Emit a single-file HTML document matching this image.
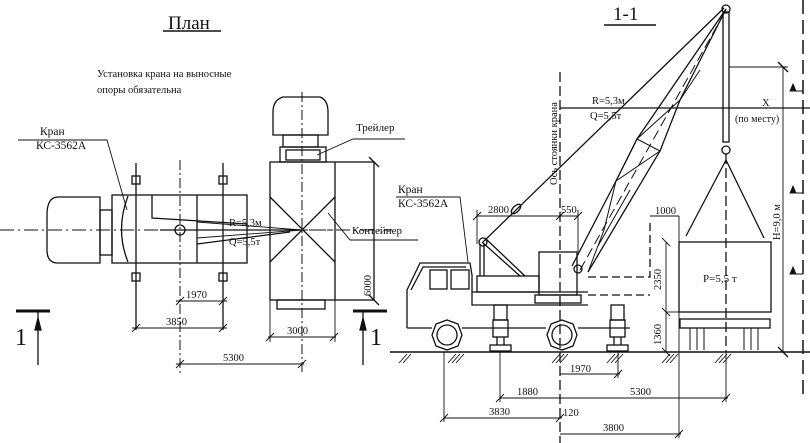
<!DOCTYPE html>
<html><head><meta charset="utf-8"><style>
html,body{margin:0;padding:0;background:#fff}
svg{display:block}
text{font-family:"Liberation Serif","DejaVu Serif",serif;fill:#111}
</style></head><body>
<svg width="810" height="443" viewBox="0 0 810 443" xmlns="http://www.w3.org/2000/svg" stroke="#111" fill="none" stroke-width="1.3">
<!-- ===== PLAN ===== -->
<text x="168" y="29" font-size="19" stroke="none">План</text>
<line x1="163" y1="31" x2="221" y2="31" stroke-width="1.5"/>
<text x="97" y="77" font-size="10.5" stroke="none" font-family="Liberation Sans">Установка крана на выносные</text>
<text x="97" y="93" font-size="10.5" stroke="none" font-family="Liberation Sans">опоры обязательна</text>

<line x1="0" y1="230" x2="392" y2="230" stroke-dasharray="14,4,2,4" stroke-width="1"/>
<path d="M58 197 H100 V263 H58 Q47 263 47 250 V215 Q47 197 58 197 Z"/>
<rect x="100" y="210" width="12" height="45"/>
<rect x="112" y="195" width="135" height="68"/>
<path d="M128 196 Q115 230 128 262"/>
<path d="M152 195 V218 L247 224"/>
<path d="M197 195 V263"/>
<path d="M197 244 L290 232"/>
<line x1="160" y1="230" x2="300" y2="230"/>
<circle cx="180" cy="230" r="5"/>
<line x1="136" y1="163" x2="136" y2="330"/>
<line x1="223" y1="163" x2="223" y2="330"/>
<rect x="132" y="176" width="8" height="8"/>
<rect x="219" y="176" width="8" height="8"/>
<rect x="132" y="273" width="8" height="8"/>
<rect x="219" y="273" width="8" height="8"/>
<line x1="180" y1="160" x2="180" y2="375" stroke-dasharray="10,3,2,3" stroke-width="1"/>
<path d="M197 222 L302 230 L197 238" stroke-width="0.9"/>
<text x="229" y="226" font-size="10.5" stroke="none">R=5,3м</text>
<text x="229" y="245" font-size="10.5" stroke="none">Q=5,5т</text>
<text x="40" y="135" font-size="11.5" stroke="none" font-family="Liberation Sans">Кран</text>
<text x="36" y="149" font-size="11.5" stroke="none" font-family="Liberation Sans">КС-3562А</text>
<path d="M18 140 H107 L127 210" stroke-width="0.9"/>

<path d="M283 97 H320 Q328 100 328 112 V135 H273 V112 Q273 100 283 97 Z"/>
<rect x="283" y="135" width="35" height="12"/>
<rect x="280" y="147" width="46" height="15"/>
<rect x="286" y="150" width="34" height="10"/>
<rect x="270" y="162" width="104" height="138"/>
<line x1="335" y1="162" x2="335" y2="300"/>
<line x1="270" y1="197" x2="335" y2="262"/>
<line x1="335" y1="197" x2="270" y2="262"/>
<rect x="277" y="300" width="48" height="9"/>
<line x1="302" y1="92" x2="302" y2="372" stroke-dasharray="10,3,2,3" stroke-width="1"/>
<line x1="300" y1="230" x2="345" y2="230" stroke-dasharray="6,3" stroke-width="1"/>
<text x="356" y="131" font-size="11" stroke="none" font-family="Liberation Sans">Трейлер</text>
<path d="M317 155 L353 139 H405" stroke-width="0.9"/>
<text x="352" y="234" font-size="11" stroke="none" font-family="Liberation Sans">Контейнер</text>
<path d="M328 213 L350 240 H418" stroke-width="0.9"/>
<line x1="374" y1="162" x2="374" y2="300" stroke-width="0.9"/>
<line x1="369" y1="157" x2="379" y2="167"/><line x1="369" y1="295" x2="379" y2="305"/>
<text transform="translate(371 296) rotate(-90)" font-size="10.5" stroke="none">6000</text>

<g stroke-width="0.9">
<line x1="176" y1="301" x2="227" y2="301"/><line x1="176" y1="305" x2="184" y2="297"/><line x1="219" y1="305" x2="227" y2="297"/>
<line x1="132" y1="328" x2="227" y2="328"/><line x1="132" y1="332" x2="140" y2="324"/><line x1="219" y1="332" x2="227" y2="324"/>
<line x1="268" y1="337" x2="336" y2="337"/><line x1="266" y1="341" x2="274" y2="333"/><line x1="330" y1="341" x2="338" y2="333"/>
<line x1="270" y1="300" x2="270" y2="342"/><line x1="335" y1="300" x2="335" y2="342"/>
<line x1="176" y1="364" x2="304" y2="364"/><line x1="176" y1="368" x2="184" y2="360"/><line x1="298" y1="368" x2="306" y2="360"/>
</g>
<text x="186" y="298" font-size="10.5" stroke="none">1970</text>
<text x="166" y="325" font-size="10.5" stroke="none">3850</text>
<text x="287" y="334" font-size="10.5" stroke="none">3000</text>
<text x="223" y="361" font-size="10.5" stroke="none">5300</text>
<line x1="16" y1="311" x2="50" y2="311" stroke-width="3"/>
<line x1="38" y1="311" x2="38" y2="365"/><path d="M35 330 L38 318 L41 330Z" fill="#111"/>
<text x="15" y="345" font-size="24" stroke="none">1</text>
<line x1="353" y1="311" x2="387" y2="311" stroke-width="3"/>
<line x1="363" y1="311" x2="363" y2="365"/><path d="M360 330 L363 318 L366 330Z" fill="#111"/>
<text x="370" y="345" font-size="24" stroke="none">1</text>

<!-- ===== SECTION 1-1 ===== -->
<text x="613" y="20" font-size="19" stroke="none">1-1</text>
<line x1="604" y1="25" x2="656" y2="25" stroke-width="1.5"/>
<line x1="390" y1="352" x2="810" y2="352" stroke-width="1.5"/>
<g stroke-width="0.9">
<path d="M448 363 l8 -9 M452 363 l8 -9 M456 363 l8 -9"/>
<path d="M552 363 l8 -9 M556 363 l8 -9 M560 363 l8 -9"/>
<path d="M607 363 l8 -9 M611 363 l8 -9 M615 363 l8 -9"/>
<path d="M662 363 l8 -9 M666 363 l8 -9 M670 363 l8 -9"/>
<path d="M715 363 l8 -9 M719 363 l8 -9 M723 363 l8 -9"/>
<path d="M399 363 l8 -9 M403 363 l8 -9"/>
</g>
<line x1="560" y1="72" x2="560" y2="443" stroke-dasharray="10,4" stroke-width="1.3"/>
<text transform="translate(557 185) rotate(-90)" font-size="10.5" stroke="none" font-family="Liberation Sans">Ось стоянки крана</text>
<path d="M407 328 V290 L420 263 H470 L472 275 V305 H588" />
<path d="M411 290 L423 267 H466"/>
<rect x="430" y="270" width="17" height="19"/><rect x="451" y="270" width="18" height="19"/>
<line x1="407" y1="328" x2="432" y2="328"/><line x1="462" y1="328" x2="546" y2="328"/><line x1="578" y1="328" x2="630" y2="328"/>
<rect x="477" y="276" width="62" height="16"/>
<line x1="472" y1="292" x2="588" y2="292"/>
<rect x="539" y="252" width="38" height="43"/>
<rect x="535" y="295" width="46" height="8"/>
<line x1="480" y1="244" x2="480" y2="276"/><line x1="484" y1="244" x2="484" y2="276"/>
<line x1="482" y1="242" x2="520" y2="276"/><line x1="485" y1="238" x2="525" y2="276"/>
<circle cx="483" cy="242" r="4"/>
<polygon points="447,320 458,324 462,335 458,346 447,350 436,346 432,335 436,324"/>
<circle cx="447" cy="335" r="10"/>
<polygon points="562,320 573,324 577,335 573,346 562,350 551,346 547,335 551,324"/>
<circle cx="562" cy="335" r="10"/>
<rect x="494" y="305" width="13" height="15"/><rect x="493" y="320" width="15" height="17"/><line x1="497" y1="337" x2="497" y2="345"/><line x1="504" y1="337" x2="504" y2="345"/><rect x="490" y="345" width="21" height="6"/>
<rect x="611" y="305" width="13" height="15"/><rect x="610" y="320" width="15" height="17"/><line x1="614" y1="337" x2="614" y2="345"/><line x1="621" y1="337" x2="621" y2="345"/><rect x="607" y="345" width="21" height="6"/>
<!-- boom (bulged lattice) -->
<polyline points="572,266 616,181 637,139 726,9"/>
<polyline points="588,272 660,151 680,100 726,9"/>
<line x1="580" y1="270" x2="726" y2="10" stroke-dasharray="10,5" stroke-width="1"/>
<path d="M637 139 L660 151 M616 181 L637 139 M637 139 L680 100 M616 181 L604 230 M660 151 L616 181 M680 100 L700 70 M604 230 L588 272 M598 246 L630 190" stroke-width="1"/>
<circle cx="578" cy="269" r="4"/>
<circle cx="726" cy="9" r="4"/>
<line x1="483" y1="242" x2="724" y2="8"/>
<ellipse cx="516" cy="209" rx="3" ry="6" transform="rotate(45 516 209)"/>
<rect x="723" y="12" width="6" height="130"/>
<circle cx="726" cy="150" r="4"/>
<line x1="726" y1="154" x2="726" y2="352" stroke-dasharray="10,4" stroke-width="1.3"/>
<line x1="726" y1="160" x2="686" y2="236"/><line x1="726" y1="160" x2="764" y2="238"/>
<rect x="679" y="242" width="92" height="70"/>
<text x="703" y="282" font-size="11" stroke="none" font-family="Liberation Sans">P=5,5 т</text>
<rect x="680" y="319" width="90" height="9"/>
<path d="M690 328 V350 M697 328 V350 M704 328 V350 M744 328 V350 M751 328 V350 M758 328 V350" stroke-width="1"/>
<path d="M588 277 H650 V220 M588 295 H650" stroke-dasharray="8,4"/>
<g stroke-width="0.9">
<line x1="650" y1="216" x2="679" y2="216"/><line x1="679" y1="216" x2="679" y2="242"/>
<line x1="666" y1="242" x2="666" y2="352"/>
<line x1="662" y1="238" x2="670" y2="246"/><line x1="662" y1="308" x2="670" y2="316"/><line x1="662" y1="348" x2="670" y2="356"/>
<line x1="666" y1="312" x2="680" y2="312"/>
</g>
<text x="655" y="214" font-size="10.5" stroke="none">1000</text>
<text transform="translate(661 290) rotate(-90)" font-size="10.5" stroke="none">2350</text>
<text transform="translate(661 345) rotate(-90)" font-size="10.5" stroke="none">1360</text>
<g stroke-width="0.9">
<line x1="477" y1="216" x2="578" y2="216"/>
<line x1="477" y1="210" x2="477" y2="244"/><line x1="578" y1="210" x2="578" y2="252"/>
<line x1="473" y1="220" x2="481" y2="212"/><line x1="556" y1="220" x2="564" y2="212"/><line x1="574" y1="220" x2="582" y2="212"/>
</g>
<text x="488" y="213" font-size="10.5" stroke="none">2800</text>
<text x="561" y="213" font-size="10.5" stroke="none">550</text>
<text x="398" y="193" font-size="11.5" stroke="none" font-family="Liberation Sans">Кран</text>
<text x="398" y="207" font-size="11.5" stroke="none" font-family="Liberation Sans">КС-3562А</text>
<path d="M396 197 H460 L468 262" stroke-width="0.9"/>
<line x1="560" y1="108" x2="810" y2="108"/>
<text x="592" y="104" font-size="10.5" stroke="none">R=5,3м</text>
<text x="590" y="119" font-size="10.5" stroke="none">Q=5,5т</text>
<text x="762" y="106" font-size="10.5" stroke="none">X</text>
<text x="735" y="122" font-size="10" stroke="none" font-family="Liberation Sans">(по месту)</text>
<line x1="729" y1="67" x2="788" y2="67" stroke-width="0.9"/>
<line x1="783" y1="67" x2="783" y2="352" stroke-width="0.9"/>
<line x1="778" y1="62" x2="788" y2="72"/><line x1="778" y1="347" x2="788" y2="357"/>
<text transform="translate(780 240) rotate(-90)" font-size="10.5" stroke="none">H=9,0 м</text>
<line x1="803" y1="0" x2="803" y2="400" stroke-dasharray="14,6" stroke-width="1.5"/>
<g stroke-width="0.9">
<path d="M792 91 H803 M792 193 H803 M792 274 H803"/>
<path d="M790 91 L793 84 L796 91Z M790 193 L793 186 L796 193Z M790 274 L793 267 L796 274Z" fill="#111"/>
</g>
<g stroke-width="0.9">
<line x1="618" y1="352" x2="618" y2="378"/>
<line x1="560" y1="374" x2="620" y2="374"/><line x1="614" y1="378" x2="622" y2="370"/>
<line x1="500" y1="352" x2="500" y2="402"/><line x1="726" y1="352" x2="726" y2="402"/>
<line x1="500" y1="398" x2="728" y2="398"/><line x1="496" y1="402" x2="504" y2="394"/><line x1="722" y1="402" x2="730" y2="394"/>
<line x1="444" y1="352" x2="444" y2="422"/>
<line x1="444" y1="418" x2="562" y2="418"/><line x1="440" y1="422" x2="448" y2="414"/><line x1="556" y1="422" x2="564" y2="414"/>
<line x1="679" y1="312" x2="679" y2="438"/>
<line x1="560" y1="434" x2="681" y2="434"/><line x1="675" y1="438" x2="683" y2="430"/>
</g>
<text x="570" y="372" font-size="10.5" stroke="none">1970</text>
<text x="517" y="395" font-size="10.5" stroke="none">1880</text>
<text x="630" y="395" font-size="10.5" stroke="none">5300</text>
<text x="489" y="415" font-size="10.5" stroke="none">3830</text>
<text x="563" y="416" font-size="10.5" stroke="none">120</text>
<text x="603" y="431" font-size="10.5" stroke="none">3800</text>
</svg>
</body></html>
